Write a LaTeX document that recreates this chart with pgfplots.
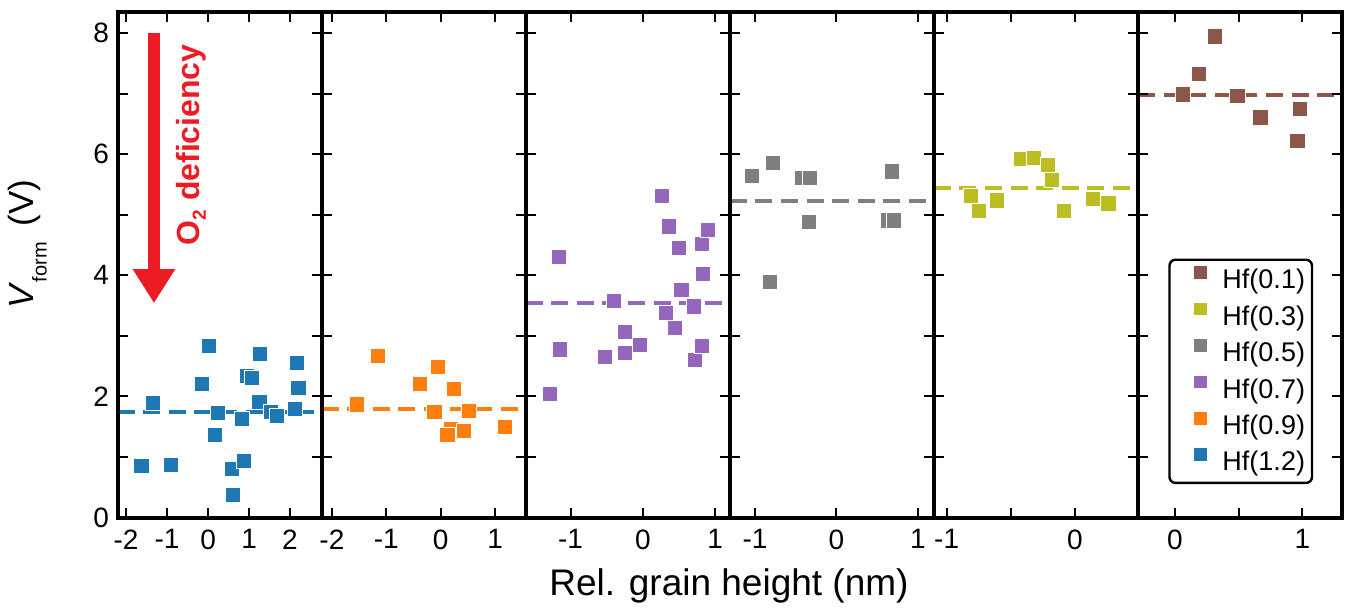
\documentclass[border=0pt]{standalone}
\usepackage{fontspec}
\setmainfont{Liberation Sans}
\usepackage{pgfplots}
\pgfplotsset{compat=1.18}
\usetikzlibrary{arrows.meta}
\definecolor{tabblue}{HTML}{1F77B4}
\definecolor{taborange}{HTML}{FF7F0E}
\definecolor{tabpurple}{HTML}{9467BD}
\definecolor{tabgray}{HTML}{7F7F7F}
\definecolor{tabolive}{HTML}{BCBD22}
\definecolor{tabbrown}{HTML}{8C564B}
\definecolor{arrowred}{HTML}{ED1C24}
\pgfplotsset{
  panel/.style={scale only axis, width=102.04pt, height=252.75pt,
    anchor=south west, ymin=0, ymax=8.35, ytick={0,...,8}, yticklabels={},
    tick align=inside, major tick length=5pt,
    tick style={line width=1pt, black},
    axis line style={line width=2pt},
    axis on top,
    ticklabel style={font=\fontsize{14}{14}\selectfont},
    xticklabel style={yshift=-2.5pt},
    yticklabel style={xshift=-0.7pt}},
  sq/.style={only marks, mark=square*, mark size=3.8pt, color=#1,
    mark options={draw=white, line width=0.3pt, fill=#1, sharp corners}},
  mean/.style={#1, line width=2pt, dash pattern=on 8.5pt off 4.3pt, forget plot},
}
\begin{document}
\begin{tikzpicture}
% Panel 1: Hf(1.2)
\begin{axis}[panel, at={(58.75pt,44.75pt)}, xmin=-2.21, xmax=2.77,
  xtick={-2,-1,0,1,2}, xticklabels={-2,-1,0,1,2}, yticklabels={0,,2,,4,,6,,8}]
\addplot[mean=tabblue] coordinates {(-2.21,1.74) (2.77,1.74)};
\addplot[sq=tabblue] coordinates {
(-1.63,0.86) (-1.34,1.90) (-0.91,0.87) (0.02,2.84) (-0.15,2.21) (0.23,1.73)
(0.17,1.37) (0.58,0.80) (0.60,0.37) (0.88,0.94) (0.83,1.63) (0.95,2.34)
(1.07,2.31) (1.27,2.70) (1.25,1.91) (1.54,1.74) (1.67,1.68) (2.11,1.79)
(2.20,2.14) (2.17,2.56)};
\draw[arrowred, line width=6pt, -{Triangle[length=17pt, width=20pt]}] (axis cs:-1.32,8.0) -- (axis cs:-1.32,3.54);
\node[rotate=90, anchor=base west, text=arrowred, font=\fontsize{16}{16}\selectfont\bfseries, inner sep=0pt]
  at (axis cs:-0.2,4.49) {O\raisebox{-3pt}{\fontsize{9.5}{9.5}\selectfont 2} deficiency};
\end{axis}
% Panel 2: Hf(0.9)
\begin{axis}[panel, at={(160.79pt,44.75pt)}, xmin=-2.19, xmax=1.56,
  xtick={-2,-1,0,1}, xticklabels={-2,-1,0,1}]
\addplot[mean=taborange] coordinates {(-2.19,1.80) (1.56,1.80)};
\addplot[sq=taborange] coordinates {
(-1.55,1.87) (-1.15,2.67) (-0.39,2.21) (-0.05,2.49) (-0.12,1.74) (0.24,2.12)
(0.19,1.46) (0.12,1.37) (0.43,1.43) (0.52,1.76) (1.18,1.50)};
\end{axis}
% Panel 3: Hf(0.7)
\begin{axis}[panel, at={(262.83pt,44.75pt)}, xmin=-1.62, xmax=1.20,
  xtick={-1,0,1}, xticklabels={-1,0,1}]
\addplot[mean=tabpurple] coordinates {(-1.62,3.55) (1.20,3.55)};
\addplot[sq=tabpurple] coordinates {
(-1.29,2.04) (-1.15,2.78) (-1.16,4.31) (-0.53,2.65) (-0.40,3.58) (-0.25,3.07)
(-0.25,2.72) (-0.04,2.85) (0.26,5.31) (0.36,4.81) (0.32,3.38) (0.44,3.14)
(0.50,4.45) (0.53,3.76) (0.70,3.49) (0.72,2.60) (0.81,2.83) (0.81,4.52)
(0.83,4.02) (0.90,4.75)};
\end{axis}
% Panel 4: Hf(0.5)
\begin{axis}[panel, at={(364.87pt,44.75pt)}, xmin=-1.31, xmax=1.195,
  xtick={-1,0,1}, xticklabels={-1,0,1}]
\addplot[mean=tabgray] coordinates {(-1.31,5.23) (1.195,5.23)};
\addplot[sq=tabgray] coordinates {
(-1.04,5.65) (-0.78,5.86) (-0.82,3.90) (-0.43,5.61) (-0.33,5.61) (-0.34,4.89)
(0.68,5.72) (0.63,4.91) (0.70,4.91)};
\end{axis}
% Panel 5: Hf(0.3)
\begin{axis}[panel, at={(466.91pt,44.75pt)}, xmin=-1.10, xmax=0.49,
  xtick={-1,-0.5,0}, xticklabels={-1,,0}]
\addplot[mean=tabolive] coordinates {(-1.10,5.44) (0.49,5.44)};
\addplot[sq=tabolive] coordinates {
(-0.81,5.32) (-0.75,5.06) (-0.61,5.24) (-0.42,5.92) (-0.32,5.94) (-0.21,5.83)
(-0.18,5.58) (-0.09,5.07) (0.14,5.27) (0.26,5.19)};
\end{axis}
% Panel 6: Hf(0.1) with legend
\begin{axis}[panel, at={(568.95pt,44.75pt)}, xmin=-0.29, xmax=1.31,
  xtick={0,0.5,1}, xticklabels={0,,1},
  legend image code/.code={\path[draw=none,fill=none] (-12pt,4.7pt) rectangle (11pt,4.7pt);
    \path[#1, draw=none, mark size=3.4pt] plot coordinates {(0pt,4.7pt)};},
  legend style={at={(0.859,0.066)}, anchor=south east, draw=black,
    line width=1.2pt, rounded corners=3pt, inner xsep=3.5pt, inner ysep=3pt,
    font=\fontsize{13.5}{13.5}\selectfont,
    nodes={inner sep=0pt, text height=10pt, text depth=3pt},
    row sep=3.6pt, cells={anchor=west}}]
\addplot[mean=tabbrown] coordinates {(-0.29,6.98) (1.31,6.98)};
\addplot[sq=tabbrown] coordinates {
(0.06,6.99) (0.19,7.33) (0.31,7.95) (0.49,6.96) (0.67,6.61) (0.98,6.75) (0.96,6.22)};
\addlegendentry{Hf(0.1)}
\addlegendimage{sq=tabolive}\addlegendentry{Hf(0.3)}
\addlegendimage{sq=tabgray}\addlegendentry{Hf(0.5)}
\addlegendimage{sq=tabpurple}\addlegendentry{Hf(0.7)}
\addlegendimage{sq=taborange}\addlegendentry{Hf(0.9)}
\addlegendimage{sq=tabblue}\addlegendentry{Hf(1.2)}
\end{axis}
% Axis labels
\node[anchor=base, font=\fontsize{18.5}{18.5}\selectfont, inner sep=0pt] at (364.5pt,6pt) {Rel. grain height (nm)};
\node[rotate=90, anchor=base, font=\fontsize{17.5}{17.5}\selectfont, inner sep=0pt] at (16.75pt,181.5pt)
  {\textit{V}\raisebox{-6.5pt}{\fontsize{10}{10}\selectfont form}\hspace{0.45em}(V)};
\pgfresetboundingbox
\useasboundingbox (0,0) rectangle (673pt,303.5pt);
\end{tikzpicture}
\end{document}
